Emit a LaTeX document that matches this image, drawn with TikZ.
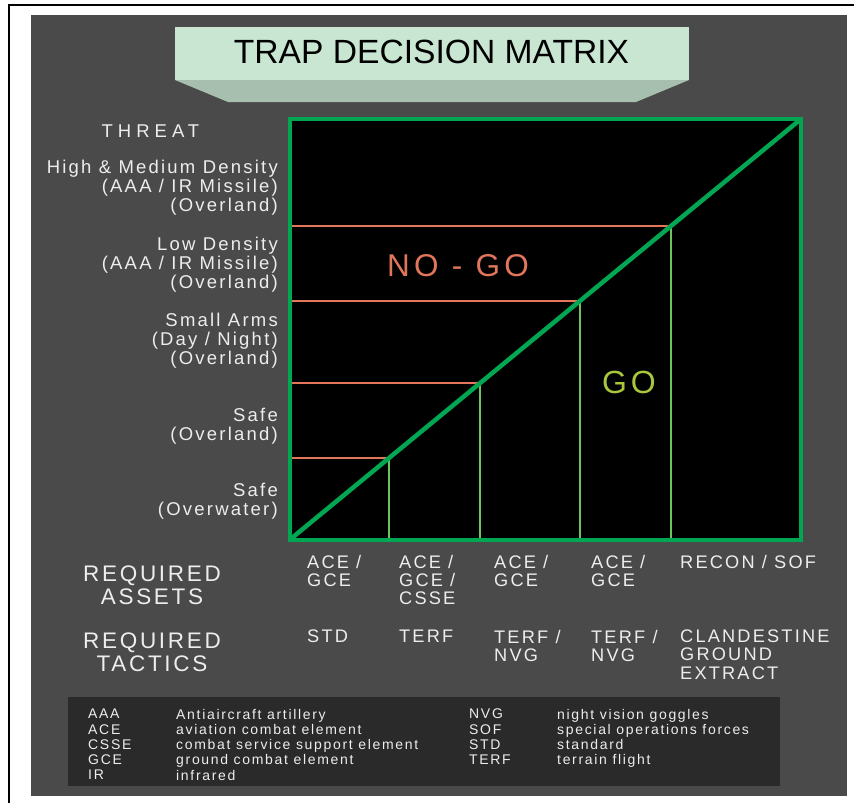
\documentclass[tikz,border=0pt]{standalone}
\usepackage{fontspec}
\setmainfont{Liberation Sans}[LetterSpace=12]
\usetikzlibrary{positioning}

\definecolor{panel}{HTML}{4A4A4A}
\definecolor{keybox}{HTML}{2A2A2A}
\definecolor{titleface}{HTML}{C9E6D3}
\definecolor{titlebevel}{HTML}{A7BFAE}
\definecolor{frame}{HTML}{00A651}
\definecolor{nogo}{HTML}{E2765A}
\definecolor{golime}{HTML}{A9C73C}
\definecolor{stepline}{HTML}{6CC45C}
\definecolor{label}{HTML}{EDEDED}

\begin{document}
\begin{tikzpicture}[x=1pt, y=-1pt,
	every node/.style={text=label, inner sep=0pt},
	threatlabel/.style={anchor=north east, align=right, font=\fontsize{18.5}{19}\selectfont},
	colitem/.style={anchor=north west, align=left, font=\fontsize{18.2}{18.3}\selectfont},
	rowhead/.style={anchor=north, align=center, font=\fontsize{22.5}{23}\selectfont},
	keyitem/.style={anchor=north west, align=left, font=\fontsize{14}{15.2}\selectfont}]
	\useasboundingbox (0,0) rectangle (854,803);
	\fill [white] (0,0) rectangle (854,803);
	\draw [line width=2pt] (8.5,803) -- (8.5,4.5) -- (854,4.5);
	\fill [panel] (31,15) rectangle (847,796);
	% title plate
	\fill [titlebevel] (175,80) -- (689,80) -- (636,102) -- (228,102) -- cycle;
	\fill [titleface] (175,27) rectangle (689,80);
	\node (title) [text=black, font=\fontsize{33.6}{33.6}\selectfont\addfontfeature{LetterSpace=0}] at (431.5,51.5) {TRAP DECISION MATRIX};
	% matrix
	\fill [black] (290,119) rectangle (801,539.5);
	\foreach \y/\x in {458/389, 383/480, 301/580, 226/671} {
		\draw [nogo, line width=1.5pt] (290,\y) -- (\x,\y);
		\draw [stepline, line width=2pt] (\x,\y) -- (\x,539.5);
	}
	\draw [frame, line width=4.5pt] (290,539.5) -- (801,119);
	\draw [frame, line width=4pt] (290,119) rectangle (801,539.5);
	\node (nogolabel) [text=nogo, font=\fontsize{31.5}{31.5}\selectfont\addfontfeature{LetterSpace=14}] at (458,266) {NO - GO};
	\node (golabel) [text=golime, font=\fontsize{32}{32}\selectfont\addfontfeature{LetterSpace=12}] at (629,382.5) {GO};
	% threat axis
	\node (threat) [font=\fontsize{18.5}{18.5}\selectfont\addfontfeature{LetterSpace=27}] at (150.5,131.5) {THREAT};
	\node (high) [threatlabel] at (278,159.7) {High \& Medium Density\\(AAA / IR Missile)\\(Overland)};
	\node (low) [threatlabel] at (278,236.7) {Low Density\\(AAA / IR Missile)\\(Overland)};
	\node (small) [threatlabel] at (278,312.7) {Small Arms\\(Day / Night)\\(Overland)};
	\node (land) [threatlabel] at (278,407.7) {Safe\\(Overland)};
	\node (water) [threatlabel] at (278,482.7) {Safe\\(Overwater)};
	% assets and tactics
	\node (assets) [rowhead] at (152,566) {REQUIRED\\ASSETS};
	\node (tactics) [rowhead] at (152,633) {REQUIRED\\TACTICS};
	\foreach \x/\need/\how [count=\i] in {307/{ACE /\\GCE}/{STD},
			399/{ACE /\\GCE /\\CSSE}/{TERF},
			494/{ACE /\\GCE}/{TERF /\\NVG},
			591/{ACE /\\GCE}/{TERF /\\NVG},
			680/{RECON / SOF}/{CLANDESTINE\\GROUND\\EXTRACT}} {
		\node (need\i) [colitem] at (\x,554.7) {\need};
		\node (how\i) [colitem] at (\x,629.7) {\how};
	}
	% key
	\fill [keybox] (68,697) rectangle (780,786);
	\node (abbr) [keyitem] at (88,709) {AAA\\ACE\\CSSE\\GCE\\IR};
	\node (meaning) [keyitem] at (176,709) {Antiaircraft artillery\\aviation combat element\\combat service support element\\ground combat element\\infrared};
	\node (abbrmore) [keyitem] at (469,709) {NVG\\SOF\\STD\\TERF};
	\node (meaningmore) [keyitem] at (557,709) {night vision goggles\\special operations forces\\standard\\terrain flight};
\end{tikzpicture}
\end{document}
